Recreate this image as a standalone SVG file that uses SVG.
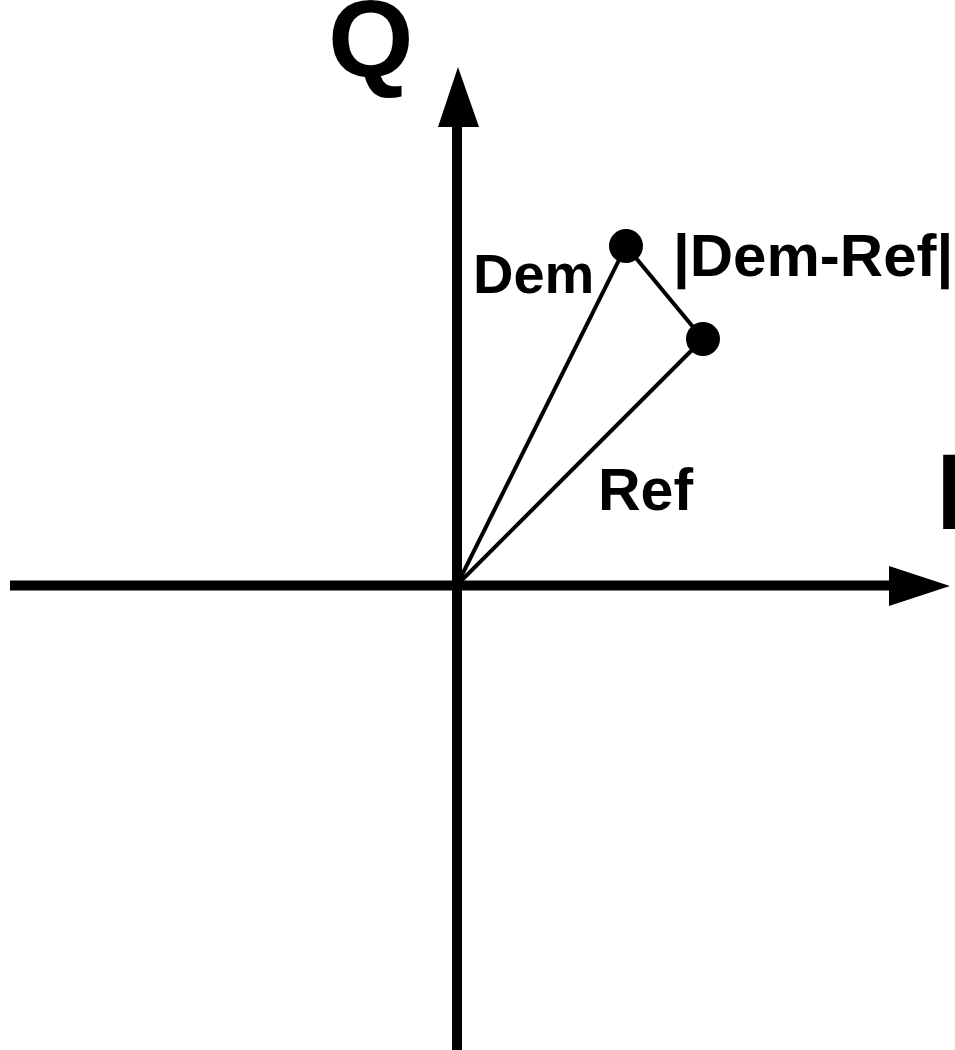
<svg xmlns="http://www.w3.org/2000/svg" width="955" height="1050" viewBox="0 0 955 1050">
<style>
.lbl{font-family:"Liberation Sans",Arial,sans-serif;font-weight:bold;fill:#000}
.axis{stroke:#000;stroke-width:10;fill:none}
.vec{stroke:#000;stroke-width:4;fill:none}
.dot{fill:#000}
</style>
<g id="connectors">
<line id="axis-i" class="axis" x1="10" y1="585.5" x2="892" y2="585.5"/>
<polygon points="950,586 889,566 889,606" fill="#000"/>
<line id="axis-q" class="axis" x1="457" y1="1050" x2="457" y2="124"/>
<polygon points="458,67 438,127 479,127" fill="#000"/>
<line id="vec-dem" class="vec" x1="457" y1="585" x2="626" y2="246"/>
<line id="vec-ref" class="vec" x1="457" y1="585" x2="703" y2="339"/>
<line id="vec-diff" class="vec" x1="626" y1="246" x2="703" y2="339"/>
</g>
<g id="dem-point"><circle class="dot" cx="626" cy="246" r="17"/></g>
<g id="ref-point"><circle class="dot" cx="703" cy="339" r="17"/></g>
<g id="label-q"><text class="lbl" x="328" y="76" font-size="110">Q</text></g>
<g id="label-i"><text class="lbl" x="936" y="529" font-size="107">I</text></g>
<g id="label-dem"><text class="lbl" x="473" y="293" font-size="56">Dem</text></g>
<g id="label-diff"><text class="lbl" x="673" y="276" font-size="60">|Dem-Ref|</text></g>
<g id="label-ref"><text class="lbl" x="598" y="510" font-size="59">Ref</text></g>
</svg>
